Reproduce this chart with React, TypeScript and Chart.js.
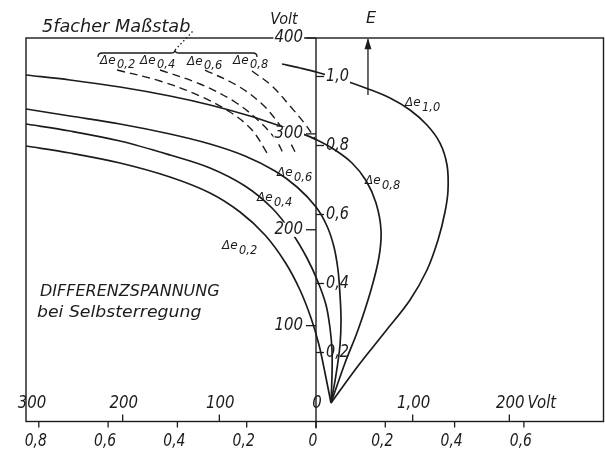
import React, { useEffect, useRef } from 'react';
import { Chart, registerables } from 'chart.js';

Chart.register(...registerables);

// ---- data (horizontal: E-units of the lower scale, vertical: E-units of the right scale)
const curveE10 = [[-0.0981,1.0362],[-0.0462,1.0246],[0.0058,1.0116],[0.0779,0.9899],[0.1472,0.9652],[0.2136,0.9377],[0.2713,0.9029],[0.3203,0.8594],[0.3579,0.8072],[0.3781,0.7435],[0.381,0.671],[0.3723,0.6072],[0.3521,0.5261],[0.3203,0.4391],[0.2713,0.3522],[0.1991,0.2594],[0.1212,0.1609],[0.0433,0.0536]];
const curveE08 = [[-0.8369,1.0043],[-0.71,0.9899],[-0.5657,0.9696],[-0.4214,0.9435],[-0.3059,0.9174],[-0.1905,0.8855],[-0.1039,0.8565],[-0.0462,0.8362],[0,0.8174],[0.0548,0.787],[0.1039,0.7493],[0.1443,0.6986],[0.1732,0.6333],[0.1876,0.5551],[0.1818,0.4768],[0.1587,0.3812],[0.1212,0.2652],[0.0837,0.1696],[0.0433,0.0536]];
const curveE06 = [[-0.8369,0.9058],[-0.71,0.8855],[-0.5657,0.8623],[-0.4214,0.8333],[-0.3059,0.8043],[-0.2049,0.7696],[-0.1183,0.7261],[-0.0548,0.6797],[0,0.6217],[0.0317,0.5667],[0.0519,0.5058],[0.0635,0.4391],[0.0693,0.3667],[0.0722,0.2942],[0.0693,0.2217],[0.0577,0.1348],[0.0433,0.0536]];
const curveE04 = [[-0.8369,0.8623],[-0.71,0.842],[-0.5657,0.813],[-0.4214,0.7725],[-0.3059,0.7348],[-0.2049,0.6826],[-0.127,0.6188],[-0.0693,0.5464],[-0.026,0.4739],[0.0058,0.4043],[0.0289,0.3377],[0.0404,0.271],[0.0462,0.2072],[0.0462,0.1348],[0.0433,0.0536]];
const curveE02 = [[-0.8369,0.7986],[-0.71,0.7783],[-0.5657,0.7493],[-0.4214,0.7087],[-0.3059,0.6623],[-0.2193,0.6072],[-0.1472,0.5406],[-0.0895,0.4623],[-0.0462,0.3812],[-0.0144,0.30],[0.0087,0.2217],[0.026,0.1406],[0.0433,0.0536]];

// five-fold scale (dashed)
const dashE02 = [[-0.5743,1.0188],[-0.4502,0.987],[-0.3348,0.9435],[-0.2482,0.8971],[-0.1847,0.8449],[-0.1414,0.7783]];
const dashE04 = [[-0.4502,1.0188],[-0.3348,0.9783],[-0.2338,0.9261],[-0.1616,0.8681],[-0.1154,0.8159],[-0.0924,0.7725]];
const dashE06 = [[-0.3203,1.0188],[-0.2251,0.9725],[-0.1558,0.9203],[-0.1068,0.8623],[-0.075,0.8101],[-0.0606,0.7812]];
const dashE08 = [[-0.1847,1.0159],[-0.127,0.9725],[-0.075,0.9145],[-0.0317,0.8623],[0,0.8159]];

const arrowE = [[0.150,0.9464],[0.150,1.108]];

// ---- ticks
const eTickValues = [-0.8,-0.6,-0.4,-0.2,0,0.2,0.4,0.6];
const eTickLabels = ['0,8','0,6','0,4','0,2','0','0,2','0,4','0,6'];
const voltXTicks = [-300,-200,-100,0,100,200];
const voltXLabels = ['300','200','100','0','1,00','200'];
const voltYTicks = [100,200,300,400];
const voltYLabels = ['100','200','300','400'];
const eYTicks = [0.2,0.4,0.6,0.8,1.0];
const eYLabels = ['0,2','0,4','0,6','0,8','1,0'];

const solidLabels = [
  { sub: '1,0', x: 0.2569, y: 0.9232 },
  { sub: '0,8', x: 0.1414, y: 0.6971 },
  { sub: '0,6', x: -0.1126, y: 0.7203 },
  { sub: '0,4', x: -0.1703, y: 0.6478 },
  { sub: '0,2', x: -0.2713, y: 0.5087 },
];
const dashLabels = [
  { sub: '0,2', x: -0.6234, y: 1.046 },
  { sub: '0,4', x: -0.5079, y: 1.046 },
  { sub: '0,6', x: -0.3723, y: 1.043 },
  { sub: '0,8', x: -0.2395, y: 1.046 },
];

const X_MIN = -0.83694;
const X_MAX = 0.82972;
const Y_MAX = 1.11159;
const XV_MAX = 297.4;

const INK = '#1c1c1c';
const FONT = '"DejaVu Sans", sans-serif';

const pts = (a: number[][]) => a.map(([x, y]) => ({ x, y }));

function drawText(ctx: CanvasRenderingContext2D, s: string, x: number, y: number, size: number, align: 'left' | 'center' | 'right', hs: number, bg = false) {
  ctx.save();
  ctx.font = `italic ${size}px ${FONT}`;
  ctx.textBaseline = 'middle';
  ctx.textAlign = 'left';
  const w = ctx.measureText(s).width * hs;
  const x0 = align === 'center' ? x - w / 2 : align === 'right' ? x - w : x;
  if (bg) {
    ctx.fillStyle = '#ffffff';
    ctx.fillRect(x0 - 1, y - size * 0.42, w + 2, size * 0.84);
  }
  ctx.translate(x0, y);
  ctx.scale(hs, 1);
  ctx.fillStyle = INK;
  ctx.fillText(s, 0, 0);
  ctx.restore();
}

function drawDelta(ctx: CanvasRenderingContext2D, sub: string, x: number, y: number, size: number) {
  ctx.save();
  ctx.font = `italic ${size}px ${FONT}`;
  ctx.textBaseline = 'middle';
  ctx.textAlign = 'left';
  ctx.fillStyle = INK;
  ctx.fillText('Δe', x, y);
  const w = ctx.measureText('Δe').width;
  ctx.font = `italic ${size * 0.95}px ${FONT}`;
  ctx.fillText(sub, x + w + 1.5, y + size * 0.4);
  ctx.restore();
}

function seg(ctx: CanvasRenderingContext2D, x1: number, y1: number, x2: number, y2: number) {
  ctx.beginPath();
  ctx.moveTo(x1, y1);
  ctx.lineTo(x2, y2);
  ctx.stroke();
}

const decor = {
  id: 'decor',
  beforeDatasetsDraw(chart: any) {
    const ctx: CanvasRenderingContext2D = chart.ctx;
    const { left, right, top, bottom } = chart.chartArea;
    const xs = chart.scales.x, ys = chart.scales.y, xv = chart.scales.xv, yv = chart.scales.yv;
    ctx.save();
    ctx.strokeStyle = INK;
    ctx.lineWidth = 1.4;
    ctx.strokeRect(left, top, right - left, bottom - top);
    const x0 = xs.getPixelForValue(0);
    seg(ctx, x0, top, x0, bottom + 7);
    ctx.lineWidth = 1.3;
    for (const v of eTickValues) {
      const px = xs.getPixelForValue(v);
      seg(ctx, px, bottom, px, bottom + 6);
    }
    for (const v of voltXTicks) {
      if (v === 0 || v === -300) continue;
      const px = xv.getPixelForValue(v);
      seg(ctx, px, bottom, px, bottom - 7);
    }
    for (const v of voltYTicks) {
      const py = yv.getPixelForValue(v);
      seg(ctx, x0 - 10, py, x0, py);
    }
    for (const v of eYTicks) {
      const py = ys.getPixelForValue(v);
      seg(ctx, x0, py, x0 + 8, py);
    }
    ctx.restore();
  },
  afterDatasetsDraw(chart: any) {
    const ctx: CanvasRenderingContext2D = chart.ctx;
    const { bottom } = chart.chartArea;
    const xs = chart.scales.x, ys = chart.scales.y, xv = chart.scales.xv, yv = chart.scales.yv;
    const X = (v: number) => xs.getPixelForValue(v);
    const Y = (v: number) => ys.getPixelForValue(v);
    const x0 = X(0);

    // bottom E scale labels
    eTickValues.forEach((v, i) => {
      drawText(ctx, eTickLabels[i], X(v) - 3, bottom + 20, 17, 'center', 0.82);
    });
    // Volt scale labels above the base line
    voltXTicks.forEach((v, i) => {
      const px = xv.getPixelForValue(v) + (i === 0 ? 6 : 1);
      drawText(ctx, voltXLabels[i], px, bottom - 18, 17, 'center', 0.88);
      if (i === voltXTicks.length - 1) {
        ctx.save();
        ctx.font = `italic 17px ${FONT}`;
        const w = ctx.measureText(voltXLabels[i]).width * 0.88;
        ctx.restore();
        drawText(ctx, 'Volt', px + w / 2 + 3, bottom - 18, 17, 'left', 0.88);
      }
    });
    // vertical Volt labels
    voltYTicks.forEach((v, i) => {
      drawText(ctx, voltYLabels[i], x0 - 13, yv.getPixelForValue(v), 17, 'right', 0.88, true);
    });
    drawText(ctx, 'Volt', X(-0.0924), Y(1.1638), 16, 'center', 0.9);
    // vertical E labels
    eYTicks.forEach((v, i) => {
      drawText(ctx, eYLabels[i], x0 + 10, Y(v), 17, 'left', 0.85, v === 1.0);
    });
    drawText(ctx, 'E', X(0.1587), Y(1.1667), 16, 'center', 1);

    // arrow head
    const ax = X(arrowE[1][0]);
    const ay = Y(arrowE[1][1]);
    ctx.save();
    ctx.fillStyle = INK;
    ctx.beginPath();
    ctx.moveTo(ax, ay - 1);
    ctx.lineTo(ax - 3.5, ay + 10);
    ctx.lineTo(ax + 3.5, ay + 10);
    ctx.closePath();
    ctx.fill();
    ctx.restore();

    // curve labels
    solidLabels.forEach((l) => drawDelta(ctx, l.sub, X(l.x), Y(l.y), 12));
    dashLabels.forEach((l) => drawDelta(ctx, l.sub, X(l.x), Y(l.y), 12));

    // brace
    ctx.save();
    ctx.strokeStyle = INK;
    ctx.lineWidth = 1.3;
    const bl = X(-0.6291), br = X(-0.1703), bt = X(-0.4069), by = Y(1.0681);
    ctx.beginPath();
    ctx.moveTo(bl, by + 4);
    ctx.quadraticCurveTo(bl, by, bl + 4, by);
    ctx.lineTo(bt - 4, by);
    ctx.quadraticCurveTo(bt, by, bt, by - 3);
    ctx.quadraticCurveTo(bt, by, bt + 4, by);
    ctx.lineTo(br - 4, by);
    ctx.quadraticCurveTo(br, by, br, by + 4);
    ctx.stroke();
    ctx.setLineDash([1.5, 2.5]);
    seg(ctx, bt, by - 3, X(-0.355), Y(1.1319));
    ctx.restore();

    drawText(ctx, '5facher Maßstab', X(-0.7908), Y(1.1406), 17, 'left', 1.04);
    drawText(ctx, 'DIFFERENZSPANNUNG', X(-0.7965), Y(0.3754), 16, 'left', 1.0);
    drawText(ctx, 'bei Selbsterregung', X(-0.8052), Y(0.3145), 16, 'left', 1.08);
  },
};

export default function App() {
  const ref = useRef<HTMLCanvasElement | null>(null);
  useEffect(() => {
    if (!ref.current) return;
    const solid = (d: number[][]) => ({
      data: pts(d), showLine: true, borderColor: INK, borderWidth: 1.7,
      pointRadius: 0, tension: 0.35, fill: false, xAxisID: 'x', yAxisID: 'y',
    });
    const dashed = (d: number[][]) => ({
      data: pts(d), showLine: true, borderColor: INK, borderWidth: 1.4, borderDash: [8, 5],
      pointRadius: 0, tension: 0.35, fill: false, xAxisID: 'x', yAxisID: 'y',
    });
    const chart = new Chart(ref.current, {
      type: 'scatter',
      data: {
        datasets: [
          solid(curveE10), solid(curveE08), solid(curveE06), solid(curveE04), solid(curveE02),
          dashed(dashE02), dashed(dashE04), dashed(dashE06), dashed(dashE08),
          { data: pts(arrowE), showLine: true, borderColor: INK, borderWidth: 1.3, pointRadius: 0, tension: 0, xAxisID: 'x', yAxisID: 'y' },
        ] as any,
      },
      options: {
        animation: false,
        responsive: false,
        events: [],
        layout: { padding: { left: 26, right: 1.5, top: 38, bottom: 32.5 } },
        plugins: { legend: { display: false }, tooltip: { enabled: false } },
        scales: {
          x: { type: 'linear', display: false, min: X_MIN, max: X_MAX },
          y: { type: 'linear', display: false, min: 0, max: Y_MAX },
          xv: { type: 'linear', display: false, min: -300, max: XV_MAX },
          yv: { type: 'linear', display: false, min: 0, max: 400 },
        },
      } as any,
      plugins: [decor],
    });
    return () => chart.destroy();
  }, []);
  return (
    <div style={{ position: 'fixed', left: 0, top: 0, width: 605, height: 454, background: '#ffffff' }}>
      <canvas ref={ref} width={605} height={454} style={{ display: 'block' }} />
    </div>
  );
}
